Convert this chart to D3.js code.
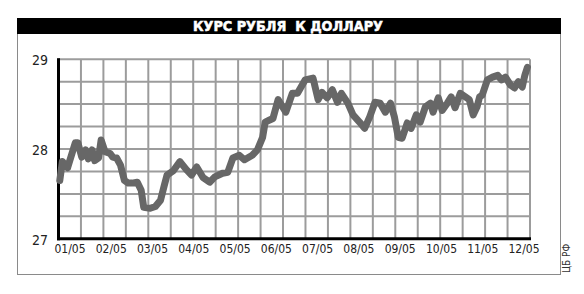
<!DOCTYPE html>
<html>
<head>
<meta charset="utf-8">
<script src="https://cdn.jsdelivr.net/npm/d3@7"></script>
<style>
  body { margin: 0; background: #fff; }
  svg { display: block; }
  text { font-family: "DejaVu Sans Condensed", "Liberation Sans Narrow", sans-serif; }
</style>
</head>
<body>
<svg id="chart" width="584" height="294"></svg>
<script>
const title = 'КУРС РУБЛЯ  К ДОЛЛАРУ'
const source = 'ЦБ РФ'
const monthLabels = ['01/05', '02/05', '03/05', '04/05', '05/05', '06/05',
  '07/05', '08/05', '09/05', '10/05', '11/05', '12/05']
const yTicks = [27, 28, 29]

// day of year 2005 -> rub per usd
const days = [1, 3, 7, 13, 15, 18, 21, 23, 26, 28, 31, 33, 36, 40, 42, 45, 48, 51, 54, 57,
  61, 64, 66, 71, 75, 79, 82, 84, 89, 94, 99, 103, 107, 112, 117, 121, 127, 131, 135, 140,
  144, 150, 154, 158, 160, 163, 166, 170, 176, 181, 185, 191, 197, 201, 204, 208, 212, 216,
  219, 224, 228, 233, 237, 241, 245, 249, 253, 257, 260, 263, 266, 270, 273, 277, 280, 284,
  288, 290, 294, 297, 301, 304, 307, 311, 315, 318, 321, 324, 326, 328, 332, 336, 340, 343,
  346, 350, 353, 356, 359, 361, 363]
const rates = [27.65, 27.86, 27.79, 28.07, 28.07, 27.91, 27.99, 27.89, 27.99, 27.87, 27.9, 28.1,
  27.97, 27.95, 27.91, 27.9, 27.82, 27.65, 27.62, 27.62, 27.63, 27.54, 27.35, 27.34, 27.36,
  27.43, 27.6, 27.71, 27.76, 27.86, 27.77, 27.71, 27.8, 27.68, 27.63, 27.69, 27.73, 27.74,
  27.9, 27.93, 27.88, 27.93, 27.99, 28.13, 28.3, 28.32, 28.34, 28.55, 28.41, 28.62, 28.62,
  28.77, 28.79, 28.55, 28.63, 28.57, 28.66, 28.52, 28.62, 28.51, 28.38, 28.3, 28.23, 28.36,
  28.52, 28.51, 28.41, 28.51, 28.36, 28.13, 28.12, 28.29, 28.23, 28.38, 28.3, 28.47, 28.51,
  28.41, 28.57, 28.43, 28.51, 28.58, 28.46, 28.62, 28.58, 28.55, 28.38, 28.47, 28.58, 28.6,
  28.77, 28.8, 28.82, 28.77, 28.8, 28.71, 28.68, 28.75, 28.69, 28.82, 28.91]

const svg = d3.select('#chart')
const plot = { left: 58.5, right: 530, top: 59.2, bottom: 238.8 }

// frame + title bar
svg.append('rect')
  .attr('x', 17.5).attr('y', 18.5).attr('width', 543).attr('height', 256)
  .attr('fill', 'none').attr('stroke', '#8a8a8a').attr('stroke-width', 1)
svg.append('rect')
  .attr('x', 17).attr('y', 18).attr('width', 544).attr('height', 16)
  .attr('fill', '#000')
svg.append('text')
  .attr('x', 288).attr('y', 31)
  .attr('text-anchor', 'middle')
  .style('white-space', 'pre')
  .attr('fill', '#fff')
  .attr('stroke', '#fff').attr('stroke-width', 0.5)
  .attr('font-size', 14).attr('font-weight', 'bold')
  .attr('textLength', 190).attr('lengthAdjust', 'spacingAndGlyphs')
  .text(title)

const x = d3.scaleLinear().domain([0, 365]).range([plot.left, plot.right])
const y = d3.scaleLinear().domain([27, 29]).range([plot.bottom, plot.top])

// grid: 21 columns, 8 rows
const g = svg.append('g')
g.selectAll('.vgrid')
  .data(d3.range(1, 22))
  .enter().append('line')
  .attr('class', 'vgrid')
  .attr('x1', (i) => plot.left + i * (plot.right - plot.left) / 21)
  .attr('x2', (i) => plot.left + i * (plot.right - plot.left) / 21)
  .attr('y1', plot.top).attr('y2', plot.bottom)
  .attr('stroke', '#9c9c9c').attr('stroke-width', 2)
g.selectAll('.hgrid')
  .data(d3.range(27.25, 29.01, 0.25))
  .enter().append('line')
  .attr('class', 'hgrid')
  .attr('x1', plot.left).attr('x2', plot.right)
  .attr('y1', (d) => y(d)).attr('y2', (d) => y(d))
  .attr('stroke', '#9c9c9c').attr('stroke-width', 2)

// axes lines
svg.append('line')
  .attr('x1', plot.left).attr('x2', plot.left)
  .attr('y1', plot.top - 1).attr('y2', plot.bottom + 1.5)
  .attr('stroke', '#000').attr('stroke-width', 3)
svg.append('line')
  .attr('x1', plot.left - 1.5).attr('x2', plot.right + 1)
  .attr('y1', plot.bottom).attr('y2', plot.bottom)
  .attr('stroke', '#000').attr('stroke-width', 3)

// y labels
svg.selectAll('.ylab')
  .data(yTicks)
  .enter().append('text')
  .attr('class', 'ylab')
  .attr('x', 48)
  .attr('y', (d) => y(d) + 6)
  .attr('text-anchor', 'end')
  .attr('font-size', 14)
  .attr('fill', '#222')
  .text((d) => d)

// x labels
const xl = d3.scalePoint().domain(monthLabels).range([70, 524])
svg.selectAll('.xlab')
  .data(monthLabels)
  .enter().append('text')
  .attr('class', 'xlab')
  .attr('x', (d) => xl(d))
  .attr('y', 253)
  .attr('text-anchor', 'middle')
  .attr('font-size', 12)
  .attr('fill', '#222')
  .text((d) => d)

// series line
const line = d3.line()
  .x((d) => x(d[0]))
  .y((d) => y(d[1]))
  .curve(d3.curveLinear)
svg.append('path')
  .datum(d3.zip(days, rates))
  .attr('d', line)
  .attr('fill', 'none')
  .attr('stroke', '#676767')
  .attr('stroke-width', 7)
  .attr('stroke-linejoin', 'round')
  .attr('stroke-linecap', 'round')

// source
svg.append('text')
  .attr('transform', 'translate(570, 273) rotate(-90)')
  .attr('font-size', 10)
  .attr('fill', '#333')
  .text(source)
</script>
</body>
</html>
